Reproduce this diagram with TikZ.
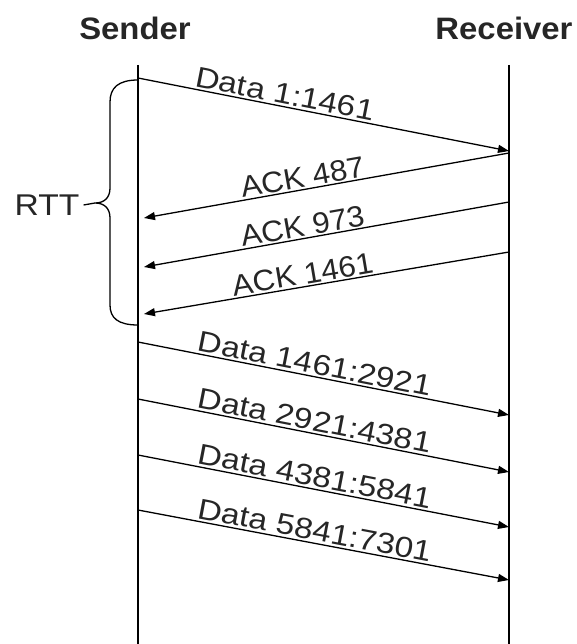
\documentclass[tikz,border=0pt]{standalone}
\usepackage{fontspec}
\setmainfont{Liberation Sans}
\newfontfamily\headfont[FakeStretch=1.06]{Liberation Sans}
\newfontfamily\datafont[FakeStretch=1.15]{Liberation Sans}
\newfontfamily\ackfont[FakeStretch=1.06]{Liberation Sans}
\newfontfamily\rttfont[FakeStretch=1.12]{Liberation Sans}
\usetikzlibrary{arrows.meta}
\begin{document}
\begin{tikzpicture}[x=1pt,y=-1pt,
  lifeline/.style={line width=1.8pt},
  msg/.style={line width=1.3pt,-{Triangle[length=11pt,width=8pt]}},
  ack/.style={line width=1.3pt,{Triangle[length=11pt,width=8pt]}-},
  lbl/.style={text=black!85,sloped,above,inner sep=2pt},
  datalbl/.style={lbl,font=\datafont\fontsize{29}{29}\selectfont},
  acklbl/.style={lbl,font=\ackfont\fontsize{29.5}{29.5}\selectfont,inner sep=1.5pt},
  head/.style={font=\headfont\fontsize{31}{31}\selectfont\bfseries,text=black!85,anchor=base},
  brace/.style={line width=1.3pt}]
\useasboundingbox (0,0) rectangle (577,644);

% headings
\node[head] (sender) at (135,40) {Sender};
\node[head] (receiver) at (504,40) {Receiver};

% lifelines
\coordinate (s0) at (138,65);
\coordinate (s1) at (138,650);
\coordinate (r0) at (509,65);
\coordinate (r1) at (509,650);
\draw[lifeline] (s0) -- (s1);
\draw[lifeline] (r0) -- (r1);

% message end points
\coordinate (d1s) at (138,78);  \coordinate (d1r) at (509,151);
\coordinate (a1s) at (144,218); \coordinate (a1r) at (509,153);
\coordinate (a2s) at (144,267); \coordinate (a2r) at (509,202);
\coordinate (a3s) at (144,314); \coordinate (a3r) at (509,252);
\coordinate (d2s) at (138,342); \coordinate (d2r) at (509,415);
\coordinate (d3s) at (138,399); \coordinate (d3r) at (509,472);
\coordinate (d4s) at (138,455); \coordinate (d4r) at (509,527);
\coordinate (d5s) at (138,510); \coordinate (d5r) at (509,580);

% data segments and acknowledgements
\draw[msg] (d1s) -- node[datalbl,pos=0.39] (l1) {Data 1:1461} (d1r);
\draw[ack] (a1s) -- node[acklbl,pos=0.44] (l2) {ACK 487} (a1r);
\draw[ack] (a2s) -- node[acklbl,pos=0.44] (l3) {ACK 973} (a2r);
\draw[ack] (a3s) -- node[acklbl,pos=0.44] (l4) {ACK 1461} (a3r);
\draw[msg] (d2s) -- node[datalbl,pos=0.47] (l5) {Data 1461:2921} (d2r);
\draw[msg] (d3s) -- node[datalbl,pos=0.47] (l6) {Data 2921:4381} (d3r);
\draw[msg] (d4s) -- node[datalbl,pos=0.47] (l7) {Data 4381:5841} (d4r);
\draw[msg] (d5s) -- node[datalbl,pos=0.47] (l8) {Data 5841:7301} (d5r);

% round-trip time brace
\coordinate (tip) at (95,203);
\draw[brace] (138,80) .. controls (118,80) and (110,88) .. (110,102)
  -- (110,188) .. controls (110,198) and (104,203) .. (tip)
  .. controls (104,203) and (110,208) .. (110,218)
  -- (110,305) .. controls (110,318) and (118,325) .. (138,325);
\node[font=\rttfont\fontsize{30}{30}\selectfont,text=black!85,inner sep=1pt] (rtt) at (47,205) {RTT};
\draw[brace] (rtt.east) ++(3,0) -- (tip);
\end{tikzpicture}
\end{document}
